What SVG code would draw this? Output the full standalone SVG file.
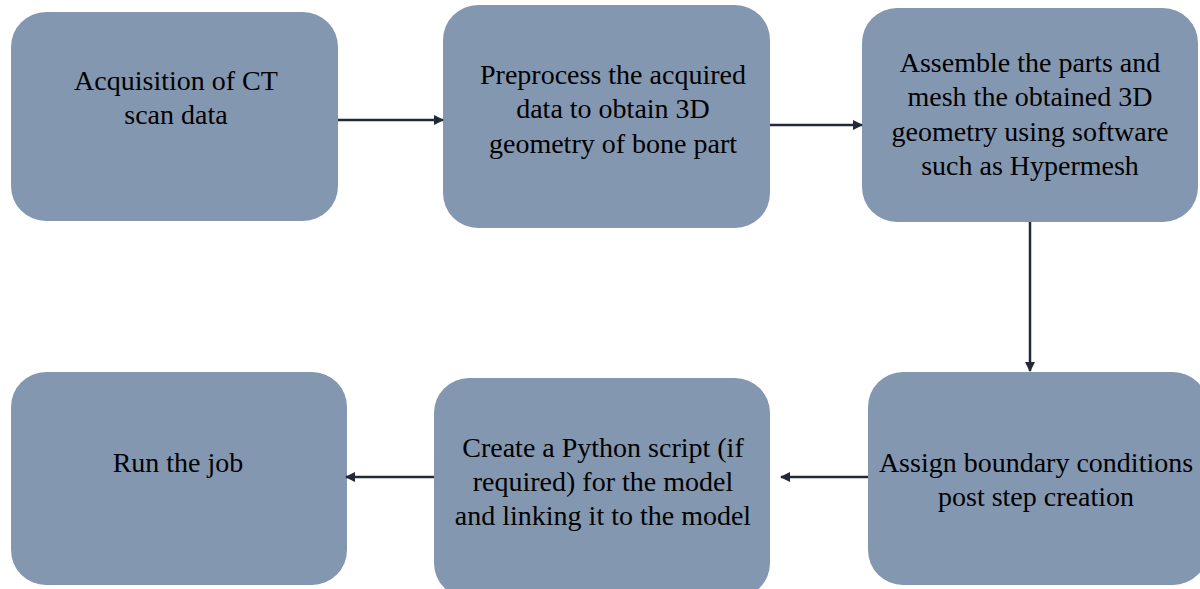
<svg xmlns="http://www.w3.org/2000/svg" width="1200" height="589" viewBox="0 0 1200 589">
<style>
.box{fill:#8497B0;}
.t{font-family:"Liberation Serif","Times New Roman",serif;font-size:28px;fill:#000;text-anchor:middle;}
.c{stroke:#222A35;stroke-width:2.5;fill:none;marker-end:url(#ah);}
</style>
<defs>
<marker id="ah" viewBox="0 0 10 10" refX="9" refY="5" markerWidth="4" markerHeight="4" orient="auto" markerUnits="strokeWidth">
<path d="M0,0 L10,5 L0,10 Z" fill="#222A35"/>
</marker>
</defs>
<rect width="1200" height="589" fill="#fff"/>
<g id="n1"><rect class="box" x="11" y="12" width="327" height="209" rx="35"/>
<text class="t" x="176" y="90">Acquisition of CT</text><text class="t" x="176" y="124">scan data</text></g>
<g id="n2"><rect class="box" x="443" y="5" width="327" height="223" rx="35"/>
<text class="t" x="613" y="84">Preprocess the acquired</text><text class="t" x="613" y="118">data to obtain 3D</text><text class="t" x="613" y="153">geometry of bone part</text></g>
<g id="n3"><rect class="box" x="862" y="8" width="336" height="214" rx="35"/>
<text class="t" x="1030" y="72">Assemble the parts and</text><text class="t" x="1030" y="106">mesh the obtained 3D</text><text class="t" x="1030" y="141">geometry using software</text><text class="t" x="1030" y="175">such as Hypermesh</text></g>
<g id="n4"><rect class="box" x="868" y="372" width="340" height="213" rx="35"/>
<text class="t" x="1036" y="472">Assign boundary conditions</text><text class="t" x="1036" y="506">post step creation</text></g>
<g id="n5"><rect class="box" x="434" y="378" width="336" height="220" rx="35"/>
<text class="t" x="603" y="457">Create a Python script (if</text><text class="t" x="603" y="491">required) for the model</text><text class="t" x="603" y="525">and linking it to the model</text></g>
<g id="n6"><rect class="box" x="11" y="372" width="336" height="213" rx="35"/>
<text class="t" x="178" y="472">Run the job</text></g>
<g id="connectors">
<line class="c" x1="338" y1="120" x2="443" y2="120"/>
<line class="c" x1="770" y1="125" x2="862" y2="125"/>
<line class="c" x1="1030" y1="222" x2="1030" y2="371"/>
<line class="c" x1="868" y1="477" x2="781" y2="477"/>
<line class="c" x1="434" y1="477" x2="346" y2="477"/>
</g>
</svg>
